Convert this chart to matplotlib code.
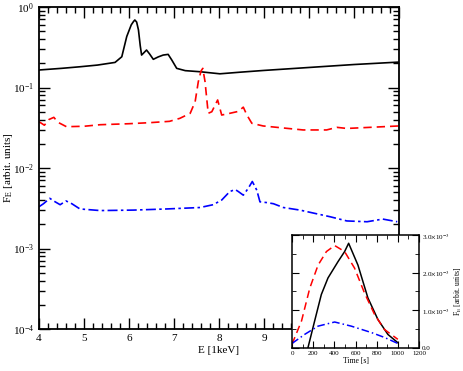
import numpy as np
import matplotlib
matplotlib.use("Agg")
import matplotlib.pyplot as plt
from matplotlib.ticker import MultipleLocator, LogLocator, NullFormatter

plt.rcParams['font.family'] = ['Liberation Serif', 'DejaVu Serif']
plt.rcParams['mathtext.fontset'] = 'stix'

# main panel: spectra
e_black = [4.0, 4.5, 4.91, 5.3, 5.69, 5.84, 5.95, 6.05, 6.1, 6.13, 6.17, 6.21, 6.25, 6.28,
           6.33, 6.39, 6.46, 6.54, 6.65, 6.76, 6.87, 6.95, 7.06, 7.25, 7.58, 8.02, 8.47,
           9.0, 10.24, 11.0, 12.0]
f_black = [0.165, 0.173, 0.181, 0.19, 0.205, 0.241, 0.43, 0.6, 0.66, 0.69, 0.65, 0.52, 0.33, 0.253,
           0.27, 0.292, 0.26, 0.224, 0.24, 0.253, 0.258, 0.22, 0.173, 0.162, 0.157, 0.148, 0.155,
           0.163, 0.181, 0.193, 0.207]

e_red = [4.0, 4.12, 4.22, 4.33, 4.42, 4.61, 5.0, 5.36, 6.0, 6.47, 6.9, 7.13, 7.36, 7.47, 7.54,
         7.6, 7.64, 7.69, 7.76, 7.84, 7.97, 8.06, 8.24, 8.43, 8.54, 8.62, 8.73, 8.98, 9.36,
         9.87, 10.39, 10.62, 10.84, 12.0]
f_red = [0.0376, 0.034, 0.040, 0.0426, 0.037, 0.0326, 0.033, 0.0345, 0.0355, 0.0366, 0.038, 0.0414,
         0.0478, 0.0667, 0.118, 0.16, 0.173, 0.118, 0.0478, 0.05, 0.07, 0.0455, 0.0478, 0.0505,
         0.057, 0.0455, 0.0359, 0.0333, 0.0317, 0.0297, 0.0297, 0.032, 0.031, 0.0333]

e_blue = [4.0, 4.1, 4.24, 4.36, 4.47, 4.6, 4.73, 4.91, 5.36, 6.1, 6.84, 7.58, 7.87, 8.06, 8.24,
          8.36, 8.43, 8.54, 8.65, 8.74, 8.84, 8.91, 9.06, 9.21, 9.43, 9.8, 10.17, 10.47, 10.84,
          11.29, 11.64, 11.96]
f_blue = [0.0033, 0.0036, 0.0042, 0.0038, 0.0035, 0.0039, 0.0036, 0.0031, 0.00296, 0.003, 0.0031,
          0.00323, 0.0035, 0.004, 0.0051, 0.0054, 0.0051, 0.0046, 0.0056, 0.0068, 0.0053, 0.0038,
          0.00372, 0.0036, 0.00323, 0.003, 0.0027, 0.00248, 0.0022, 0.00215, 0.00232, 0.00215]

# inset: light curves (units of 1e-3)
t_black = [150, 214, 277, 340, 434, 497, 535, 623, 717, 811, 906, 1000]
l_black = [0.0, 0.72, 1.42, 1.86, 2.29, 2.56, 2.78, 2.2, 1.33, 0.76, 0.36, 0.14]
t_red = [0, 90, 168, 246, 325, 403, 497, 591, 685, 780, 874, 1000]
l_red = [0.1, 0.72, 1.59, 2.2, 2.56, 2.72, 2.56, 2.12, 1.46, 0.89, 0.49, 0.23]
t_blue = [0, 119, 246, 403, 560, 750, 874, 1000]
l_blue = [0.12, 0.36, 0.58, 0.69, 0.58, 0.41, 0.28, 0.12]

fig = plt.figure(figsize=(4.63, 3.71), dpi=100)
ax = fig.add_axes([0.0842, 0.1132, 0.7776, 0.8679])

ax.plot(e_black, f_black, color='black', lw=1.2)
ax.plot(e_red, f_red, color='red', lw=1.2, ls=(0, (5, 3)))
ax.plot(e_blue, f_blue, color='blue', lw=1.2, ls=(0, (6, 2, 1.5, 2)))

ax.set_yscale('log')
ax.set_xlim(4, 12)
ax.set_ylim(1e-4, 1)
ax.xaxis.set_major_locator(MultipleLocator(1))
ax.xaxis.set_minor_locator(MultipleLocator(0.2))
ax.yaxis.set_major_locator(LogLocator(base=10))
ax.yaxis.set_minor_locator(LogLocator(base=10, subs=np.arange(2, 10)))
ax.yaxis.set_minor_formatter(NullFormatter())
ax.tick_params(which='both', direction='in', top=True, right=True, labelsize=8, width=1)
ax.tick_params(which='major', length=8)
ax.tick_params(which='minor', length=4)
for s in ax.spines.values():
    s.set_linewidth(1.3)
ax.set_xlabel('E [1keV]', fontsize=8, labelpad=2)
ax.set_ylabel(r'F$_\mathrm{E}$ [arbit. units]', fontsize=8)
ax.yaxis.set_label_coords(-0.066, 0.5)

ins = fig.add_axes([0.6307, 0.062, 0.2743, 0.3046])
ins.set_zorder(5)
ins.set_facecolor('white')
ins.plot(t_black, np.array(l_black) * 1e-3, color='black', lw=1.1)
ins.plot(t_red, np.array(l_red) * 1e-3, color='red', lw=1.1, ls=(0, (5, 3)))
ins.plot(t_blue, np.array(l_blue) * 1e-3, color='blue', lw=1.1, ls=(0, (5, 2, 1, 2)))
ins.set_xlim(0, 1200)
ins.set_ylim(0, 3e-3)
ins.xaxis.set_major_locator(MultipleLocator(200))
ins.xaxis.set_minor_locator(MultipleLocator(100))
ins.set_yticks([0, 1e-3, 2e-3, 3e-3])
ins.set_yticklabels(['0.0', r'1.0$\times$10$^{-3}$', r'2.0$\times$10$^{-3}$', r'3.0$\times$10$^{-3}$'])
ins.yaxis.set_minor_locator(MultipleLocator(0.5e-3))
ins.yaxis.tick_right()
ins.yaxis.set_label_position('right')
ins.tick_params(which='both', direction='in', top=True, left=True, right=True,
                labelsize=5, pad=2)
ins.tick_params(which='major', length=5)
ins.tick_params(which='minor', length=3)
for s in ins.spines.values():
    s.set_linewidth(1.1)
ins.set_xlabel('Time [s]', fontsize=5.5, labelpad=1)
ins.set_ylabel(r'F$_\mathrm{E}$ [arbit. units]', fontsize=5.5, labelpad=2)

fig.savefig('out.png', dpi=100)
